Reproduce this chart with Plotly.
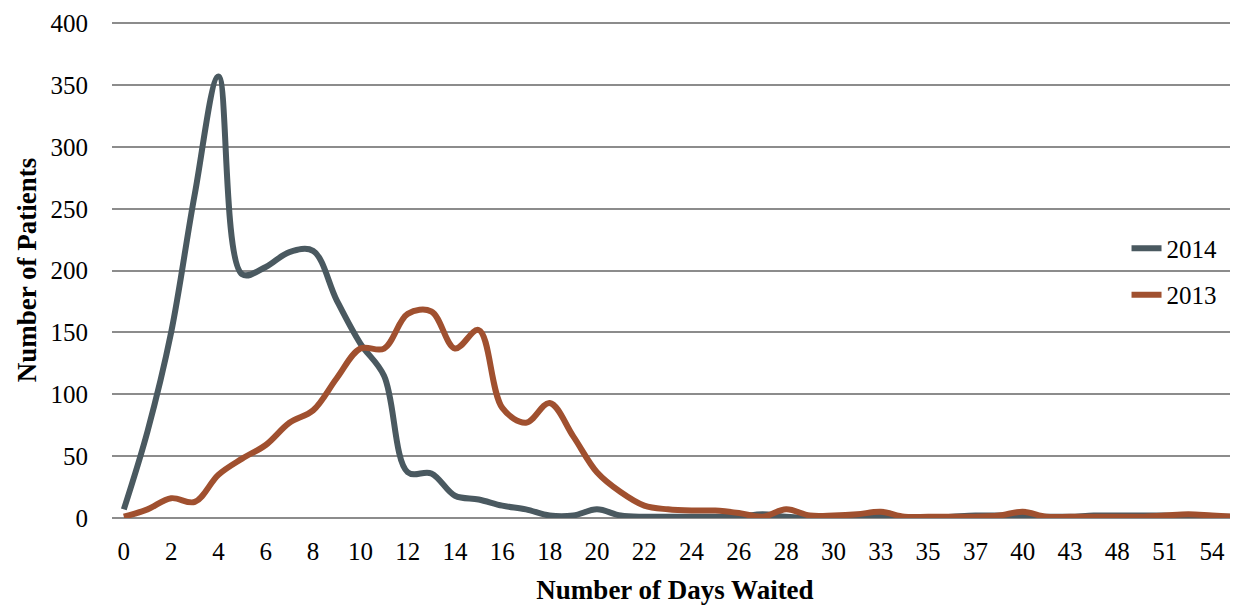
import plotly.graph_objects as go

days = [str(d) for d in list(range(0, 32)) + [33, 34, 35, 36, 37, 39, 40, 42, 43, 45, 48, 50, 51, 53, 54, 56]]

patients_2014 = [7, 70, 150, 262, 357, 197, 203, 215, 216, 176,
                 141, 115, 37, 36, 18, 15, 10, 7, 2, 2,
                 7, 2, 1, 1, 1, 1, 1, 3, 1, 0,
                 0, 0, 1, 0, 0, 1, 2, 2, 1, 1,
                 1, 2, 2, 2, 2, 1, 1, 1]

patients_2013 = [1, 7, 16, 13, 35, 48, 59, 77, 87, 113,
                 137, 137, 165, 167, 137, 152, 89, 77, 93, 66,
                 37, 21, 10, 7, 6, 6, 4, 1, 7, 2,
                 2, 3, 5, 1, 1, 1, 1, 2, 5, 1,
                 1, 1, 1, 1, 2, 3, 2, 1]

tick_labels = days[::2]
y_ticks = [0, 50, 100, 150, 200, 250, 300, 350, 400]

FONT = "Liberation Serif"
C2014 = "#4A5960"
C2013 = "#A0502F"

fig = go.Figure()
fig.add_trace(go.Scatter(x=days, y=patients_2014, name="2014", mode="lines",
                         line=dict(color=C2014, width=6, shape="spline"),
                         legendgroup="a"))
fig.add_trace(go.Scatter(x=days, y=patients_2013, name="2013", mode="lines",
                         line=dict(color=C2013, width=6, shape="spline"),
                         legendgroup="b"))

fig.update_layout(
    width=1230, height=600,
    margin=dict(l=104, r=0, t=14, b=90),
    plot_bgcolor="white", paper_bgcolor="white",
    font=dict(family=FONT, size=24, color="black"),
    legend=dict(x=0.901, y=0.497, xanchor="left", yanchor="middle",
                traceorder="grouped", tracegroupgap=11,
                font=dict(family=FONT, size=25, color="black"),
                bgcolor="rgba(0,0,0,0)"),
    xaxis=dict(type="category", categoryorder="array", categoryarray=days,
               range=[-0.5, 47.1], tickmode="array", tickvals=tick_labels,
               ticktext=tick_labels, showgrid=False, zeroline=False,
               showline=False, ticks="", ticklabelstandoff=16,
               tickfont=dict(family=FONT, size=25),
               title=dict(text="<b>Number of Days Waited</b>", standoff=16,
                          font=dict(family=FONT, size=27))),
    yaxis=dict(range=[0, 401], tickvals=y_ticks,
               showgrid=True, gridcolor="#8C8C8C", gridwidth=2,
               zeroline=True, zerolinecolor="#8C8C8C", zerolinewidth=2,
               showline=False, ticks="", ticklabelstandoff=23,
               tickfont=dict(family=FONT, size=25),
               title=dict(text="<b>Number of Patients</b>", standoff=6,
                          font=dict(family=FONT, size=27))),
)

fig.write_html("out.html")
